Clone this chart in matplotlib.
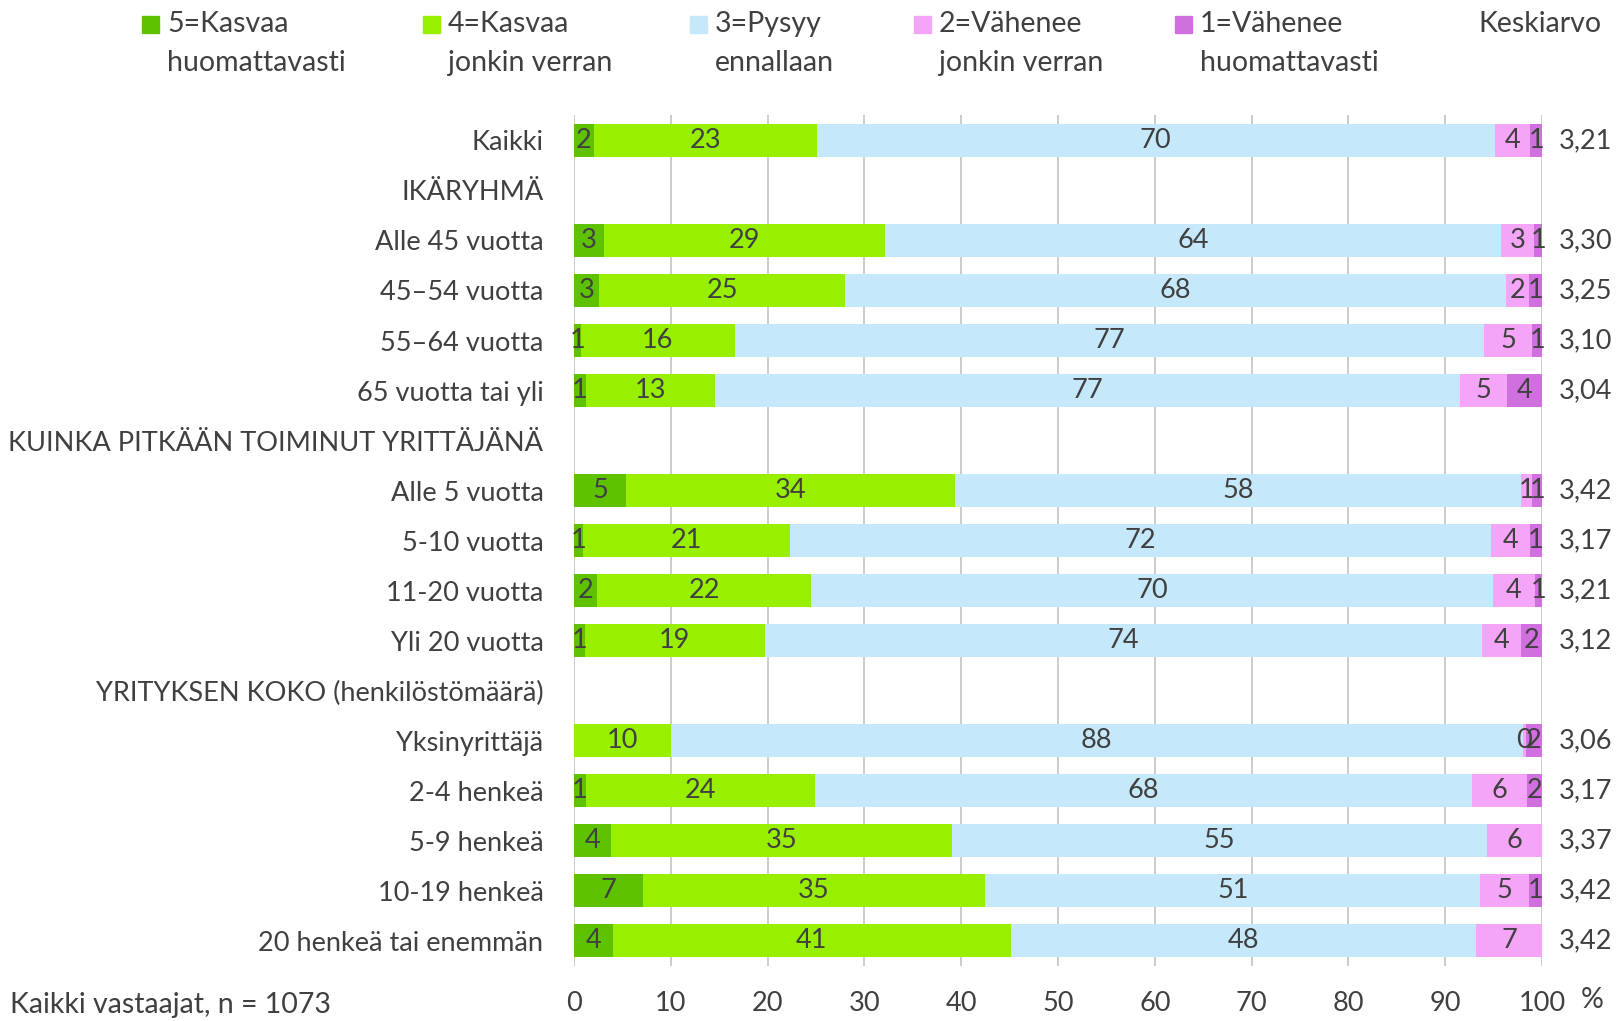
import matplotlib.pyplot as plt
import numpy as np
from matplotlib.patches import Rectangle

plt.rcParams['font.family'] = 'Lato'

# Rivit (None = otsikkorivi ilman palkkia)
labels = ["Kaikki", "IKÄRYHMÄ", "Alle 45 vuotta", "45–54 vuotta", "55–64 vuotta",
          "65 vuotta tai yli", "KUINKA PITKÄÄN TOIMINUT YRITTÄJÄNÄ", "Alle 5 vuotta",
          "5-10 vuotta", "11-20 vuotta", "Yli 20 vuotta", "YRITYKSEN KOKO (henkilöstömäärä)",
          "Yksinyrittäjä", "2-4 henkeä", "5-9 henkeä", "10-19 henkeä", "20 henkeä tai enemmän"]

kasvaa_huom = [2.1, None, 3.1, 2.6, 0.7, 1.2, None, 5.4, 0.9, 2.4, 1.1, None, 0.0, 1.2, 3.8, 7.1, 4.0]
kasvaa_jonkin = [23.0, None, 29.0, 25.4, 15.9, 13.4, None, 34.0, 21.4, 22.1, 18.6, None, 10.0, 23.7, 35.3, 35.4, 41.1]
pysyy = [70.0, None, 63.7, 68.3, 77.4, 76.9, None, 58.4, 72.4, 70.4, 74.1, None, 88.0, 67.9, 55.2, 51.1, 48.1]
vahenee_jonkin = [3.7, None, 3.4, 2.3, 5.0, 4.9, None, 1.2, 4.0, 4.4, 4.0, None, 0.3, 5.6, 5.7, 5.0, 6.8]
vahenee_huom = [1.2, None, 0.8, 1.4, 1.0, 3.6, None, 1.0, 1.3, 0.7, 2.2, None, 1.7, 1.6, 0.0, 1.4, 0.0]
keskiarvo = [3.21, None, 3.30, 3.25, 3.10, 3.04, None, 3.42, 3.17, 3.21, 3.12, None, 3.06, 3.17, 3.37, 3.42, 3.42]

series = [kasvaa_huom, kasvaa_jonkin, pysyy, vahenee_jonkin, vahenee_huom]
series_names = ["5=Kasvaa\nhuomattavasti", "4=Kasvaa\njonkin verran", "3=Pysyy\nennallaan",
                "2=Vähenee\njonkin verran", "1=Vähenee\nhuomattavasti"]
colors = ['#5EC200', '#98F000', '#C5E8FA', '#F5A5F7', '#D070DE']
text_color = '#404040'
fs = 19.5
fs_big = 20.5

fig = plt.figure(figsize=(16.19, 10.21), dpi=100)
ax = fig.add_axes([0.3545, 0.054, 0.598, 0.833])

y = np.arange(len(labels))
left = np.zeros(len(labels))
for vals, col in zip(series, colors):
    for i, v in enumerate(vals):
        if v is None:
            continue
        if v > 0:
            ax.barh(y[i], v, left=left[i], height=0.66, color=col, zorder=2)
        if v > 0 or (v == 0 and col == colors[3]):
            ax.text(left[i] + v / 2, y[i], f'{round(v):d}', ha='center', va='center',
                    fontsize=fs, color=text_color, zorder=3)
        left[i] += v

# Keskiarvot oikealle
for i, m in enumerate(keskiarvo):
    if m is not None:
        ax.text(1.0176, y[i], f'{m:.2f}'.replace('.', ','), transform=ax.get_yaxis_transform(),
                ha='left', va='center', fontsize=fs, color=text_color)

ax.set_xlim(0, 100)
ax.set_ylim(len(labels) - 0.5, -0.5)
ax.set_xticks(np.arange(0, 101, 10))
ax.set_yticks(y, labels)
ax.tick_params(axis='x', length=0, pad=18, labelsize=fs, colors=text_color)
ax.tick_params(axis='y', length=0, pad=22, labelsize=fs, colors=text_color)
ax.grid(axis='x', color='#C4C4C4', linewidth=1.2, zorder=0)
ax.set_axisbelow(True)
for s in ax.spines.values():
    s.set_visible(False)

# Selite ylhäällä
leg_x = [142, 423, 690, 914, 1175]
W, H = 1619, 1021
for lx, name, col in zip(leg_x, series_names, colors):
    fig.add_artist(Rectangle((lx / W, 1 - 33 / H), 17 / W, 17 / H, transform=fig.transFigure,
                             color=col))
    l1, l2 = name.split('\n')
    fig.text((lx + 25) / W, 1 - 24 / H, l1, ha='left', va='center', fontsize=fs_big, color=text_color)
    fig.text((lx + 25) / W, 1 - 63 / H, l2, ha='left', va='center', fontsize=fs_big, color=text_color)
fig.text(1601 / W, 1 - 24 / H, 'Keskiarvo', ha='right', va='center', fontsize=fs_big, color=text_color)

fig.text(1592 / W, 1 - 1000 / H, '%', ha='center', va='center', fontsize=fs_big, color=text_color)
fig.text(10 / W, 1 - 1005 / H, 'Kaikki vastaajat, n = 1073', ha='left', va='center',
         fontsize=fs_big, color=text_color)

fig.savefig('out.png', dpi=100)
